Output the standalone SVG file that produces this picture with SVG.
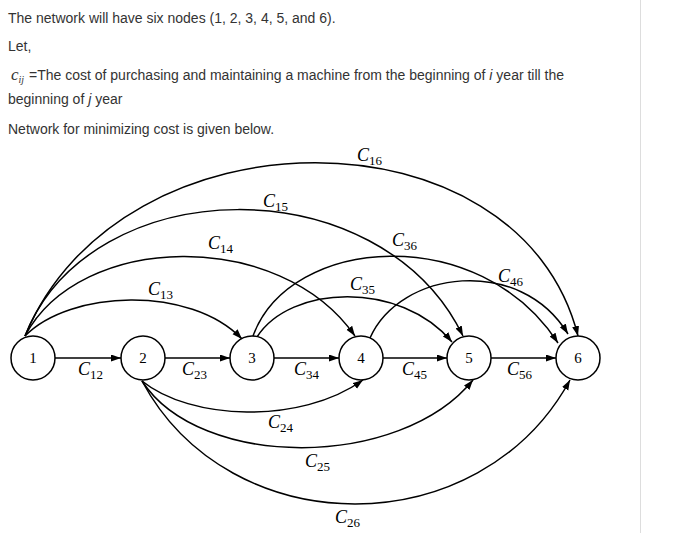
<svg xmlns="http://www.w3.org/2000/svg" width="695" height="533" viewBox="0 0 695 533">
<style>
.t{font-family:"Liberation Sans",Arial,sans-serif;font-size:14px;fill:#333}
.it{font-style:italic}
.n circle{fill:#fff;stroke:#000;stroke-width:1.5}
.n text{font-family:"Liberation Serif","Times New Roman",serif;font-size:15px;fill:#000;text-anchor:middle}
.e path{fill:none;stroke:#000;stroke-width:1.5;marker-end:url(#ah)}
.lbl{font-family:"Liberation Serif","Times New Roman",serif;font-size:18px;font-style:italic;fill:#000}
.sub{font-size:13px;font-style:normal}
</style>
<defs>
<marker id="ah" markerUnits="userSpaceOnUse" markerWidth="11" markerHeight="8" refX="10" refY="3.5" orient="auto">
<path d="M0,0 L10,3.5 L0,7 z" fill="#000"/>
</marker>
</defs>
<rect width="695" height="533" fill="#fff"/>
<line x1="640.5" y1="0" x2="640.5" y2="533" stroke="#ddd" stroke-width="1"/>
<g id="intro">
<text class="t" x="8" y="23">The network will have six nodes (1, 2, 3, 4, 5, and 6).</text>
<text class="t" x="8" y="51">Let,</text>
<text x="11" y="80" style="font-family:'Liberation Serif','Times New Roman',serif;font-size:17px;font-style:italic;fill:#333">c<tspan dy="3" style="font-size:10px">ij</tspan></text>
<text class="t" x="29" y="80">=The cost of purchasing and maintaining a machine from the beginning of <tspan class="it">i</tspan> year till the</text>
<text class="t" x="8" y="104">beginning of <tspan class="it">j</tspan> year</text>
<text class="t" x="8" y="134">Network for minimizing cost is given below.</text>
</g>
<g id="connectors" class="e">
<path id="e12" d="M55,358 L121,358"/>
<path id="e23" d="M165,358 L230,358"/>
<path id="e34" d="M274,358 L339,358"/>
<path id="e45" d="M383,358 L447,358"/>
<path id="e56" d="M491,358 L556,358"/>
<path id="e13" d="M25,336 C70,290 190,285 242,339"/>
<path id="e14" d="M25,336 C80,232 280,228 355,336"/>
<path id="e15" d="M25,336 C90,170 380,165 463,336"/>
<path id="e16" d="M25,336 C120,105 520,105 578,336"/>
<path id="e35" d="M257,337 C290,285 400,280 452,342"/>
<path id="e36" d="M253,336 C290,235 480,222 558,343"/>
<path id="e46" d="M370,338 C400,270 520,255 568,334"/>
<path id="e24" d="M142,381 C190,420 300,425 363,380"/>
<path id="e25" d="M142,381 C200,470 400,470 473,380"/>
<path id="e26" d="M142,381 C230,545 480,545 570,380"/>
</g>
<g id="node1" class="n"><circle cx="33" cy="358" r="22"/><text x="33" y="363">1</text></g>
<g id="node2" class="n"><circle cx="143" cy="358" r="22"/><text x="143" y="363">2</text></g>
<g id="node3" class="n"><circle cx="252" cy="358" r="22"/><text x="252" y="363">3</text></g>
<g id="node4" class="n"><circle cx="361" cy="358" r="22"/><text x="361" y="363">4</text></g>
<g id="node5" class="n"><circle cx="469" cy="358" r="22"/><text x="469" y="363">5</text></g>
<g id="node6" class="n"><circle cx="578" cy="358" r="22"/><text x="578" y="363">6</text></g>
<g id="labels">
<text class="lbl" x="357" y="161">C<tspan class="sub" dy="4">16</tspan></text>
<text class="lbl" x="263" y="207">C<tspan class="sub" dy="4">15</tspan></text>
<text class="lbl" x="208" y="249">C<tspan class="sub" dy="4">14</tspan></text>
<text class="lbl" x="148" y="295">C<tspan class="sub" dy="4">13</tspan></text>
<text class="lbl" x="392" y="246">C<tspan class="sub" dy="4">36</tspan></text>
<text class="lbl" x="350" y="290">C<tspan class="sub" dy="4">35</tspan></text>
<text class="lbl" x="498" y="282">C<tspan class="sub" dy="4">46</tspan></text>
<text class="lbl" x="78" y="375">C<tspan class="sub" dy="4">12</tspan></text>
<text class="lbl" x="182" y="375">C<tspan class="sub" dy="4">23</tspan></text>
<text class="lbl" x="294" y="375">C<tspan class="sub" dy="4">34</tspan></text>
<text class="lbl" x="402" y="375">C<tspan class="sub" dy="4">45</tspan></text>
<text class="lbl" x="507" y="375">C<tspan class="sub" dy="4">56</tspan></text>
<text class="lbl" x="268" y="428">C<tspan class="sub" dy="4">24</tspan></text>
<text class="lbl" x="305" y="467">C<tspan class="sub" dy="4">25</tspan></text>
<text class="lbl" x="335" y="523">C<tspan class="sub" dy="4">26</tspan></text>
</g>
</svg>
